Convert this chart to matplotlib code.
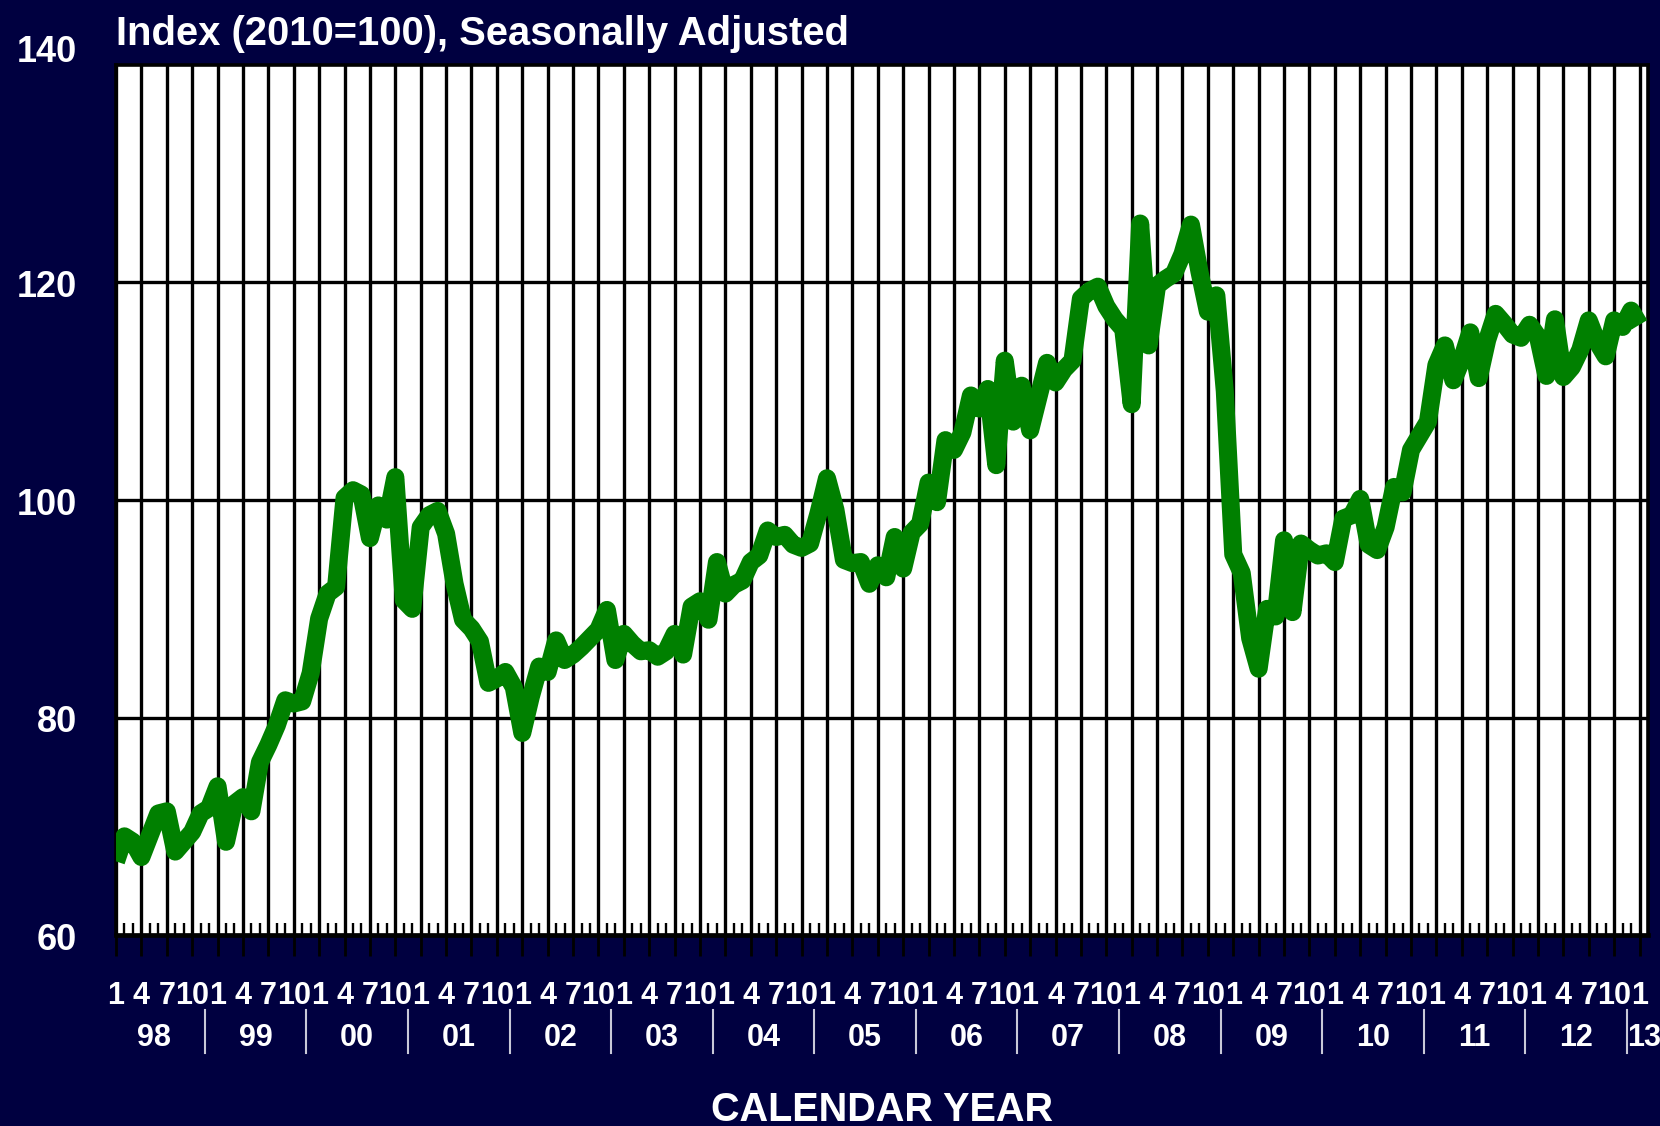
import numpy as np
import matplotlib
matplotlib.use("Agg")
import matplotlib.pyplot as plt
from matplotlib.transforms import blended_transform_factory, ScaledTranslation
from matplotlib.lines import Line2D

plt.rcParams['font.family'] = ['Liberation Sans', 'DejaVu Sans']
plt.rcParams['font.weight'] = 'bold'

# ---------------- data ----------------
title = "Index (2010=100), Seasonally Adjusted"
x_title = "CALENDAR YEAR"

idx_1998 = [66.8, 69.1, 68.6, 67.2, 69.2, 71.2, 71.4, 67.7, 68.6, 69.5, 71.2, 71.7]
idx_1999 = [73.7, 68.6, 72.1, 72.7, 71.4, 75.9, 77.5, 79.3, 81.6, 81.3, 81.5, 84.1]
idx_2000 = [89.1, 91.4, 92.0, 100.2, 100.9, 100.5, 96.5, 99.5, 98.2, 102.1, 90.8, 90.0]
idx_2001 = [97.5, 98.6, 99.0, 96.9, 92.3, 89.0, 88.2, 87.0, 83.2, 83.6, 84.2, 82.8]
idx_2002 = [78.6, 81.9, 84.7, 84.2, 87.1, 85.3, 85.8, 86.5, 87.3, 88.1, 89.9, 85.3]
idx_2003 = [87.7, 86.8, 86.1, 86.2, 85.6, 86.1, 87.7, 85.8, 90.2, 90.7, 89.0, 94.3]
idx_2004 = [91.4, 92.2, 92.6, 94.3, 94.9, 97.2, 96.6, 96.8, 95.9, 95.6, 96.0, 98.8]
idx_2005 = [102.0, 99.1, 94.5, 94.2, 94.3, 92.3, 94.0, 92.9, 96.6, 93.7, 97.0, 97.8]
idx_2006 = [101.6, 99.8, 105.5, 104.6, 106.2, 109.6, 108.4, 110.2, 103.2, 112.8, 107.2, 110.5]
idx_2007 = [106.4, 109.5, 112.6, 110.8, 112.0, 112.8, 118.5, 119.2, 119.6, 117.8, 116.6, 115.7]
idx_2008 = [108.8, 125.4, 114.2, 119.7, 120.3, 120.8, 122.6, 125.3, 121.0, 117.3, 118.8, 110.0]
idx_2009 = [95.0, 93.3, 87.3, 84.5, 90.0, 89.3, 96.3, 89.7, 96.0, 95.4, 94.9, 95.1]
idx_2010 = [94.3, 98.3, 98.6, 100.1, 95.9, 95.4, 97.5, 101.2, 100.7, 104.6, 105.9, 107.2]
idx_2011 = [112.4, 114.2, 111.0, 112.9, 115.4, 111.2, 114.7, 117.1, 116.2, 115.2, 114.9, 116.1]
idx_2012 = [115.0, 111.4, 116.6, 111.3, 112.2, 113.8, 116.5, 114.5, 113.2, 116.5, 115.9, 117.4]
idx_2013 = [116.1]

values = (idx_1998 + idx_1999 + idx_2000 + idx_2001 + idx_2002 + idx_2003 +
          idx_2004 + idx_2005 + idx_2006 + idx_2007 + idx_2008 + idx_2009 +
          idx_2010 + idx_2011 + idx_2012 + idx_2013)

quarter_labels = ['1', '4', '7', '10']
year_labels = ['98', '99', '00', '01', '02', '03', '04', '05', '06', '07',
               '08', '09', '10', '11', '12', '13']
y_tick_values = [60, 80, 100, 120, 140]
y_grid_values = [80, 100, 120]

# ---------------- style ----------------
NAVY = '#000040'
GREEN = '#008000'
W, H = 1660, 1126
AX_L, AX_R, AX_T, AX_B = 116, 1648, 64.6, 935.4

fig = plt.figure(figsize=(W / 100, H / 100), dpi=100, facecolor=NAVY)
ax = fig.add_axes([AX_L / W, 1 - AX_B / H, (AX_R - AX_L) / W, (AX_B - AX_T) / H])
ax.set_facecolor('white')

x = np.arange(len(values))
ax.set_xlim(0, 181)
ax.set_ylim(y_tick_values[0], y_tick_values[-1])

# grid
ax.set_axisbelow(True)
ax.set_xticks(np.arange(0, len(values), 3))
ax.set_xticks(x, minor=True)
ax.set_yticks(y_grid_values)
ax.grid(True, which='major', color='black', linewidth=2.4)
ax.tick_params(axis='x', which='major', direction='out', length=15, width=2,
               color='black', labelbottom=False)
ax.tick_params(axis='x', which='minor', direction='in', length=9, width=1.7,
               color='black')
ax.tick_params(axis='y', which='both', length=0, labelleft=False)
for s in ax.spines.values():
    s.set_color('black')
    s.set_linewidth(2.6)
ax.spines['bottom'].set_linewidth(3.4)

# series
ax.plot(x, values, color=GREEN, linewidth=13, solid_joinstyle='round',
        solid_capstyle='butt', zorder=3)

# y labels
ytr = blended_transform_factory(fig.transFigure, ax.transData)
for v in y_tick_values:
    dy = 16 if v == y_tick_values[-1] else -1
    tr = ytr + ScaledTranslation(0, dy / 100, fig.dpi_scale_trans)
    ax.text(77 / W, v, str(v), transform=tr, ha='right',
            va='center_baseline', color='white', fontsize=26, fontweight='bold')

# x labels
xtr = blended_transform_factory(ax.transData, fig.transFigure)
for m in range(0, len(values), 3):
    ax.text(m, 1 - 993 / H, quarter_labels[(m % 12) // 3], transform=xtr,
            ha='center', va='center_baseline', color='white', fontsize=22,
            fontweight='bold')
n_years = len(year_labels)
for k, lab in enumerate(year_labels):
    pos = 4.5 + 12 * k if k < n_years - 1 else len(values) - 0.5
    ax.text(pos, 1 - 1034 / H, lab, transform=xtr, ha='center',
            va='center_baseline', color='white', fontsize=22, fontweight='bold')
for k in range(n_years - 1):
    sep = 10.5 + 12 * k
    ax.add_line(Line2D([sep, sep], [1 - 1010 / H, 1 - 1053 / H], transform=xtr,
                       color='#c8c8d8', linewidth=1.5, clip_on=False))

fig.text((AX_L + AX_R) / 2 / W, 1 - 1106 / H, x_title, ha='center',
         va='center_baseline', color='white', fontsize=28.5, fontweight='bold')
fig.text(AX_L / W, 1 - 30 / H, title, ha='left', va='center_baseline',
         color='white', fontsize=28.8, fontweight='bold')

fig.savefig('out.png', dpi=100, facecolor=NAVY)
